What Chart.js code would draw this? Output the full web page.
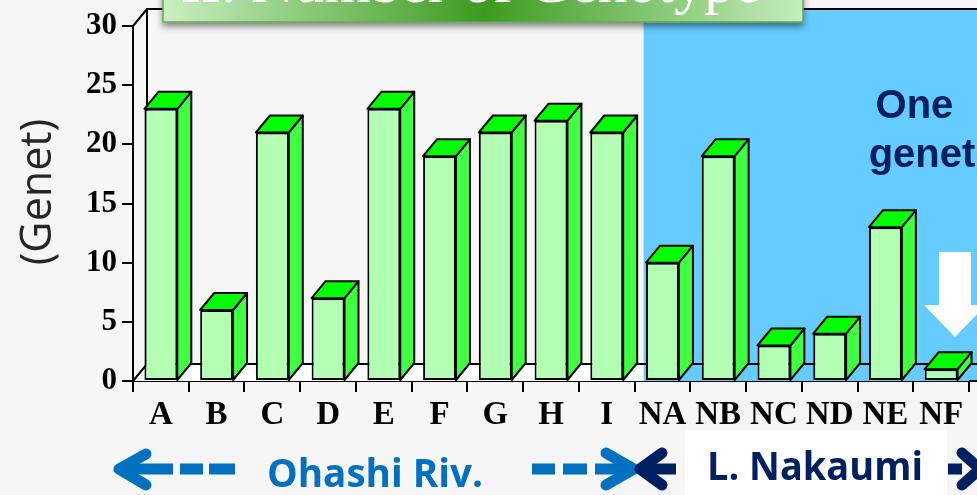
<!DOCTYPE html>
<html>
<head>
<meta charset="utf-8">
<script src="https://cdn.jsdelivr.net/npm/chart.js@4.4.1/dist/chart.umd.min.js"></script>
<style>
  html, body { margin: 0; padding: 0; background: #f6f6f6; }
  #wrap { position: relative; width: 977px; height: 495px; overflow: hidden; }
  #chartBox { position: absolute; left: 0; top: 0; width: 977px; height: 495px; }
  #overlay { position: absolute; left: 0; top: 0; pointer-events: none; }
</style>
</head>
<body>
<div id="wrap">
  <div id="chartBox"><canvas id="genetChart"></canvas></div>
  <svg id="overlay" width="977" height="495" xmlns="http://www.w3.org/2000/svg">
    <defs>
      <linearGradient id="titleGrad" x1="0" y1="0" x2="1" y2="0">
        <stop offset="0" stop-color="#c9f0c2"/>
        <stop offset="0.5" stop-color="#3d9b20"/>
        <stop offset="1" stop-color="#c4eebd"/>
      </linearGradient>
      <filter id="shadow" x="-5%" y="-20%" width="110%" height="160%">
        <feDropShadow dx="0" dy="4" stdDeviation="3" flood-color="#000" flood-opacity="0.45"/>
      </filter>
    </defs>
    <!-- title box, mostly above the visible area -->
    <rect x="163" y="-40" width="640" height="62" fill="url(#titleGrad)" stroke="#67a64c" stroke-width="1.5" filter="url(#shadow)"/>
    <text x="471" y="2" text-anchor="middle" font-family="'Liberation Serif', serif" font-size="60" fill="#ffffff">II. Number of Genotype</text>

    <!-- y axis label -->
    <text transform="translate(34,192) rotate(-90)" text-anchor="middle" dominant-baseline="central"
          font-family="'Open Sans', sans-serif" font-size="43" fill="#262626">(Genet)</text>

    <!-- note on the right -->
    <text text-anchor="middle" font-family="'Liberation Sans', Arial, sans-serif" font-weight="bold" font-size="40" fill="#002060">
      <tspan x="920" y="118">One</tspan>
      <tspan x="922" y="167">genet</tspan>
    </text>
    <polygon points="939,252 971,252 971,305 986,305 955,337 924,305 939,305" fill="#ffffff"/>

    <!-- bottom: Ohashi Riv. -->
    <g stroke="#0070c0" stroke-width="11" fill="none" stroke-linejoin="round">
      <polyline points="146,454 119,469 146,485" stroke-linecap="round"/>
      <line x1="122" y1="469" x2="173" y2="469"/>
      <line x1="180" y1="469" x2="203" y2="469"/>
      <line x1="209" y1="469" x2="235" y2="469"/>
      <line x1="532" y1="469" x2="555" y2="469"/>
      <line x1="563" y1="469" x2="587" y2="469"/>
      <line x1="595" y1="469" x2="632" y2="469"/>
      <polyline points="606,453 634,469 606,485" stroke-linecap="round"/>
    </g>
    <text x="267" y="487" font-family="'Open Sans', sans-serif" font-weight="bold" font-size="39" fill="#0070c0"
          textLength="216" lengthAdjust="spacingAndGlyphs">Ohashi Riv.</text>

    <!-- bottom: L. Nakaumi -->
    <g stroke="#002060" stroke-width="11" fill="none" stroke-linejoin="round">
      <polyline points="662,453 640,469 662,485" stroke-linecap="round"/>
      <line x1="642" y1="469" x2="676" y2="469"/>
      <line x1="948" y1="469" x2="962" y2="469"/>
      <polyline points="962,453 980,469 962,485" stroke-linecap="round"/>
    </g>
    <rect x="685" y="430" width="262" height="65" fill="#ffffff"/>
    <text x="707" y="480" font-family="'Open Sans', sans-serif" font-weight="bold" font-size="39" fill="#002060"
          textLength="216" lengthAdjust="spacingAndGlyphs">L. Nakaumi</text>
  </svg>
</div>

<script>
// data
const categories = ['A', 'B', 'C', 'D', 'E', 'F', 'G', 'H', 'I', 'NA', 'NB', 'NC', 'ND', 'NE', 'NF'];
const genets = [23, 6, 21, 7, 23, 19, 21, 22, 21, 10, 19, 3, 4, 13, 1];
const yTicks = [0, 5, 10, 15, 20, 25, 30];
const nakaumiFirst = 'NA';   // blue backdrop starts at this site

// 3D depth of the old-style chart
const DX = 14;
const DY = -17;

const serif = "'Times New Roman', 'Liberation Serif', serif";

// draws floor, back walls and the blue backdrop behind the bars
const backdrop = {
  id: 'backdrop',
  beforeDatasetsDraw(chart) {
    const { ctx, chartArea: a, scales: { x } } = chart;
    const W = chart.width;
    const i = categories.indexOf(nakaumiFirst);
    const blueX = (x.getPixelForValue(i - 1) + x.getPixelForValue(i)) / 2 + 9;

    ctx.save();
    // floor
    ctx.fillStyle = '#ffffff';
    ctx.beginPath();
    ctx.moveTo(a.left, a.bottom);
    ctx.lineTo(a.right, a.bottom);
    ctx.lineTo(a.right + DX, a.bottom + DY);
    ctx.lineTo(a.left + DX, a.bottom + DY);
    ctx.closePath();
    ctx.fill();

    // blue backdrop
    ctx.fillStyle = '#66ccff';
    ctx.fillRect(blueX, a.top + DY, W - blueX, a.bottom - (a.top + DY));

    // wall edges
    ctx.strokeStyle = '#000';
    ctx.lineWidth = 2;
    ctx.beginPath();
    ctx.moveTo(a.left + DX, a.bottom + DY);
    ctx.lineTo(a.left + DX, a.top + DY);
    ctx.lineTo(W, a.top + DY);
    ctx.moveTo(a.left + DX, a.bottom + DY);
    ctx.lineTo(W, a.bottom + DY);
    ctx.moveTo(a.left, a.bottom);
    ctx.lineTo(a.left + DX, a.bottom + DY);
    ctx.moveTo(a.left, a.top);
    ctx.lineTo(a.left + DX, a.top + DY);
    ctx.moveTo(a.right, a.bottom);
    ctx.lineTo(W, a.bottom);
    ctx.stroke();
    ctx.restore();
  },
  // side and top faces of each bar, from the bar elements
  afterDatasetsDraw(chart) {
    const { ctx } = chart;
    const meta = chart.getDatasetMeta(0);
    ctx.save();
    ctx.strokeStyle = '#000';
    ctx.lineWidth = 2;
    ctx.lineJoin = 'round';
    meta.data.forEach(bar => {
      const l = bar.x - bar.width / 2;
      const r = bar.x + bar.width / 2;
      const t = bar.y;
      const b = bar.base;
      // side
      ctx.fillStyle = '#40ff40';
      ctx.beginPath();
      ctx.moveTo(r, t);
      ctx.lineTo(r + DX, t + DY);
      ctx.lineTo(r + DX, b + DY);
      ctx.lineTo(r, b);
      ctx.closePath();
      ctx.fill();
      ctx.stroke();
      // top
      ctx.fillStyle = '#00ff00';
      ctx.beginPath();
      ctx.moveTo(l, t);
      ctx.lineTo(l + DX, t + DY);
      ctx.lineTo(r + DX, t + DY);
      ctx.lineTo(r, t);
      ctx.closePath();
      ctx.fill();
      ctx.stroke();
    });
    ctx.restore();
  }
};

new Chart(document.getElementById('genetChart'), {
  type: 'bar',
  data: {
    labels: categories,
    datasets: [{
      data: genets,
      backgroundColor: '#b3ffb3',
      borderColor: '#000',
      borderWidth: 2,
      borderSkipped: false,
      barPercentage: 0.59,
      categoryPercentage: 1
    }]
  },
  options: {
    responsive: true,
    maintainAspectRatio: false,
    animation: false,
    layout: { padding: { top: 26, right: 8, left: 0, bottom: 0 } },
    plugins: { legend: { display: false }, tooltip: { enabled: false } },
    scales: {
      x: {
        afterFit: s => { s.height = 114; },
        grid: { offset: true, drawOnChartArea: false, tickLength: 11, color: '#000', lineWidth: 2 },
        border: { color: '#000', width: 2 },
        ticks: {
          autoSkip: false, maxRotation: 0, padding: 4, color: '#000',
          font: { family: serif, size: 33, weight: 'bold' }
        }
      },
      y: {
        min: 0,
        max: 30,
        afterFit: s => { s.width = 133; },
        afterBuildTicks: s => { s.ticks = yTicks.map(v => ({ value: v })); },
        grid: { drawOnChartArea: false, tickLength: 11, color: '#000', lineWidth: 2 },
        border: { color: '#000', width: 2 },
        ticks: {
          padding: 5, color: '#000',
          font: { family: serif, size: 31, weight: 'bold' }
        }
      }
    }
  },
  plugins: [backdrop]
});
</script>
</body>
</html>
